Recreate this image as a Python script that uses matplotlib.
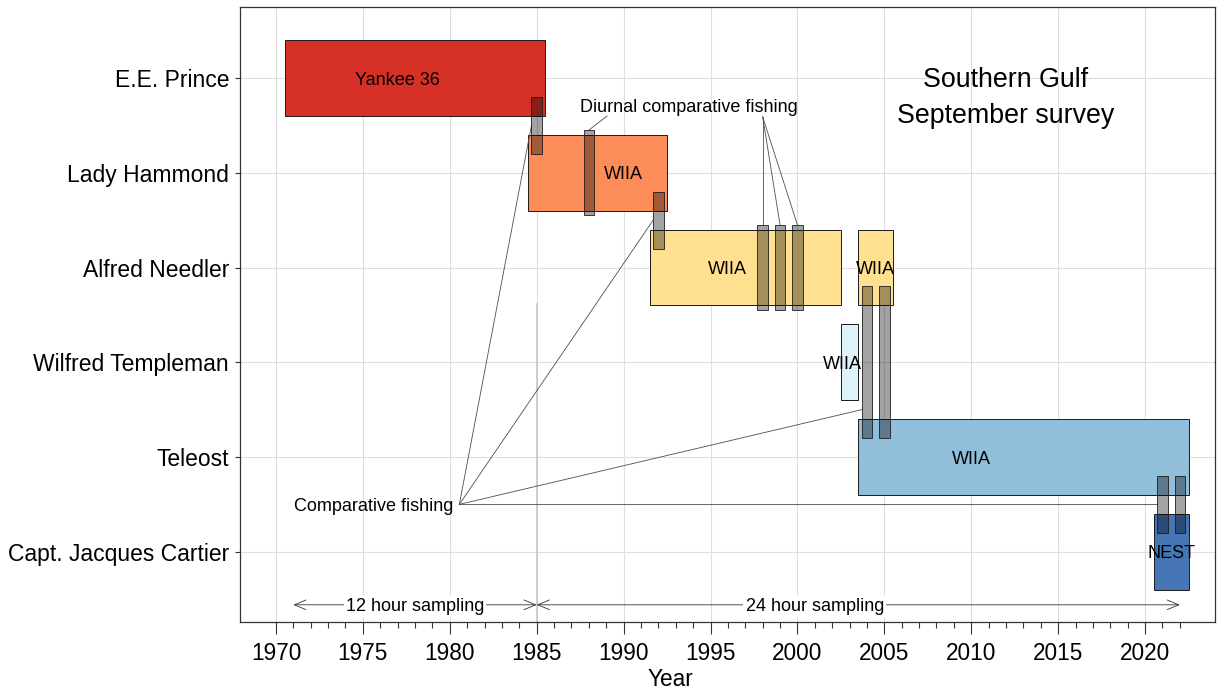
import matplotlib
matplotlib.use("Agg")
import matplotlib.pyplot as plt
import numpy as np

plt.rcParams['font.family'] = ['Liberation Sans', 'DejaVu Sans']

# ---------------- data ----------------
vessels = ["E.E. Prince", "Lady Hammond", "Alfred Needler",
           "Wilfred Templeman", "Teleost", "Capt. Jacques Cartier"]
vessel_colors = ["#d73027", "#fc8d59", "#fee090", "#e0f3f8", "#91bfdb", "#4575b4"]

# survey periods (first year, last year) for each vessel/gear block
period_vessel = ["E.E. Prince", "Lady Hammond", "Alfred Needler", "Alfred Needler",
                 "Wilfred Templeman", "Teleost", "Capt. Jacques Cartier"]
period_start = [1971, 1985, 1992, 2004, 2003, 2004, 2021]
period_end = [1985, 1992, 2002, 2005, 2003, 2022, 2022]
period_gear = ["Yankee 36", "WIIA", "WIIA", "WIIA", "WIIA", "WIIA", "NEST"]
period_label_x = [1977, 1990, 1996, 2004.5, 2002.6, 2010, 2021.5]

# comparative fishing experiments (year, vertical extent between vessel rows)
comp_years = [1985, 1988, 1992, 1998, 1999, 2000, 2004, 2005, 2021, 2022]
comp_ymin = [5.2, 4.55, 4.2, 3.55, 3.55, 3.55, 2.2, 2.2, 1.2, 1.2]
comp_ymax = [5.8, 5.45, 4.8, 4.45, 4.45, 4.45, 3.8, 3.8, 1.8, 1.8]

# which experiments are pointed to by each annotation
comparative_years = [1985, 1992, 2004, 2021]
comparative_target_y = [5.5, 4.5, 2.5, 1.5]
diurnal_years = [1998, 1999, 2000]

x_major = list(range(1970, 2021, 5))
x_minor = [y for y in range(1970, 2023) if y % 5 != 0]

# ---------------- figure ----------------
fig = plt.figure(figsize=(12.18, 6.92), dpi=100)
ax = fig.add_axes([0.1973, 0.1012, 0.8005, 0.8883])

nv = len(vessels)
ypos = {v: nv - i for i, v in enumerate(vessels)}
cmap = dict(zip(vessels, vessel_colors))

# grid
ax.set_axisbelow(True)
ax.grid(True, which='major', color='#dedede', lw=0.8)

# vertical marker at 1985 (sampling change)
ax.plot([1985, 1985], [0.2, 3.62], color='#c4c4c4', lw=1.1, zorder=1)

# vessel blocks
ps = np.array(period_start)
pe = np.array(period_end)
ax.barh([ypos[v] for v in period_vessel], pe - ps + 1, left=ps - 0.5, height=0.8,
        color=[cmap[v] for v in period_vessel], edgecolor='#1a1a1a', lw=0.7, zorder=2)

for v, lx, g in zip(period_vessel, period_label_x, period_gear):
    ax.text(lx, ypos[v], g, ha='center', va='center_baseline', fontsize=13, zorder=6)

# comparative fishing annotation lines
ox, oy = 1980.55, 1.5
for yr, ty in zip(comparative_years, comparative_target_y):
    ax.plot([ox, yr - 0.3], [oy, ty], color='#4d4d4d', lw=0.6, zorder=3)
ax.text(1980.2, oy, "Comparative fishing", ha='right', va='center_baseline',
        fontsize=13, zorder=6)

# diurnal comparative fishing annotation
ax.text(1993.75, 5.71, "Diurnal comparative fishing", ha='center', va='center_baseline',
        fontsize=13, zorder=6)
ax.plot([1989.05, 1988], [5.6, 5.45], color='#4d4d4d', lw=0.6, zorder=3)
for yr in diurnal_years:
    ax.plot([1998, yr], [5.59, 4.45], color='#4d4d4d', lw=0.6, zorder=3)

# comparative fishing bars
cy0 = np.array(comp_ymin)
cy1 = np.array(comp_ymax)
ax.bar(comp_years, cy1 - cy0, bottom=cy0, width=0.6,
       facecolor=(0, 0, 0, 0.36), edgecolor=(0.1, 0.1, 0.1, 0.85), lw=0.7, zorder=4)

# title text
ax.text(2012, 5.785, "Southern Gulf\nSeptember survey", ha='center', va='center',
        fontsize=19.3, linespacing=1.5, zorder=6)

# sampling arrows
ay = 0.44
arrow_kw = dict(arrowstyle='<->,head_length=0.6,head_width=0.25', color='#333333', lw=0.6,
                shrinkA=0, shrinkB=0, mutation_scale=14)
ax.annotate("", xy=(1971, ay), xytext=(1985, ay), arrowprops=arrow_kw, zorder=3)
ax.annotate("", xy=(1985, ay), xytext=(2022, ay), arrowprops=arrow_kw, zorder=3)
ax.text(1978, ay, "12 hour sampling", ha='center', va='center_baseline', fontsize=13,
        zorder=6, bbox=dict(facecolor='white', edgecolor='none', pad=1.5))
ax.text(2001, ay, "24 hour sampling", ha='center', va='center_baseline', fontsize=13,
        zorder=6, bbox=dict(facecolor='white', edgecolor='none', pad=1.5))

# axes
ax.set_xlim(1967.95, 2024.04)
ax.set_ylim(0.259, 6.747)
ax.set_xticks(x_major)
ax.set_xticks(x_minor, minor=True)
ax.set_yticks([ypos[v] for v in vessels])
ax.set_yticklabels(vessels)
ax.tick_params(axis='x', which='major', length=8.6, width=0.8, color='#333333',
               labelsize=16.3, pad=6)
ax.tick_params(axis='x', which='minor', length=4.3, width=0.8, color='#333333')
ax.tick_params(axis='y', which='major', length=3.6, width=0.8, color='#333333',
               labelsize=16.5, pad=4.5)
ax.grid(False, which='minor')
for s in ax.spines.values():
    s.set_color('#333333')
    s.set_linewidth(0.9)

ax.set_xlabel("Year", fontsize=16.3)
ax.xaxis.set_label_coords(0.441, -0.075)

fig.savefig("out.png", dpi=100)
